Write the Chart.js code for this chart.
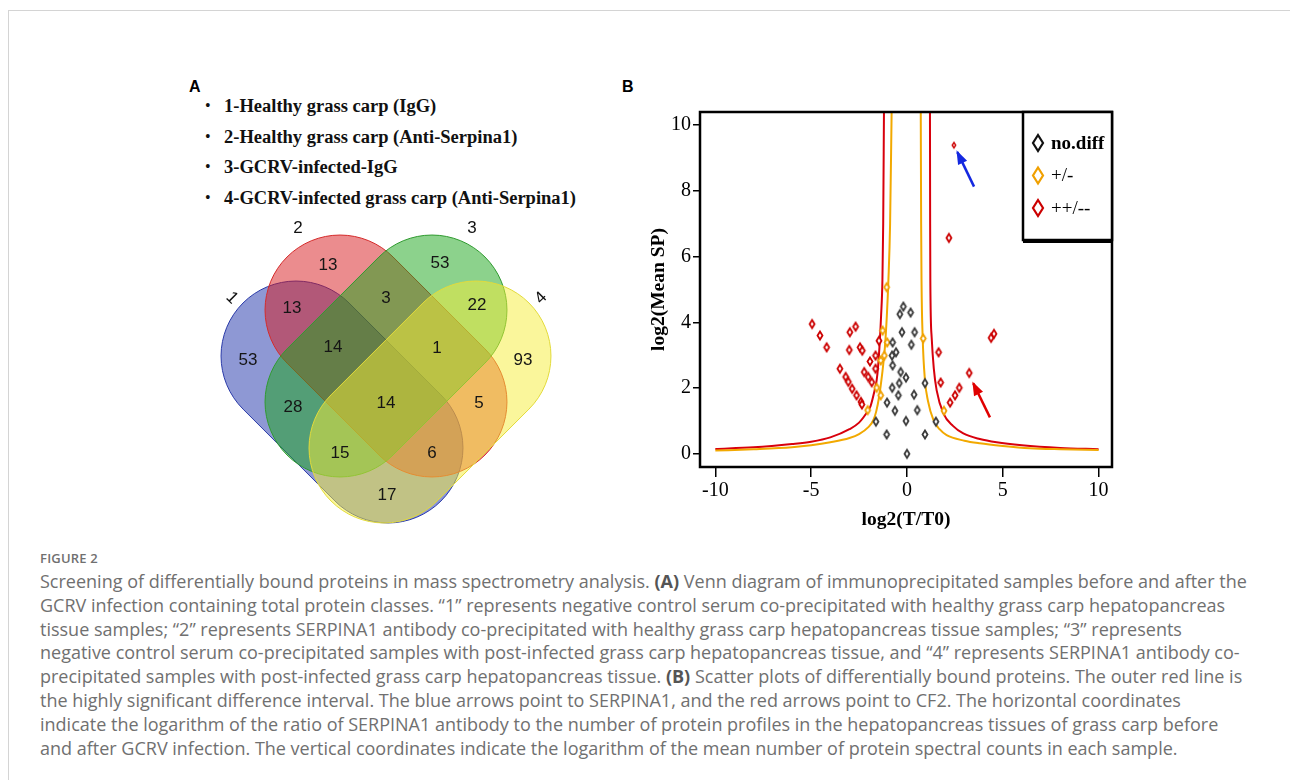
<!DOCTYPE html>
<html lang="en">
<head>
<meta charset="UTF-8">
<title>Figure 2</title>
<style>
    body {
        margin: 0;
        width: 1290px;
        height: 780px;
        background: #fff;
        position: relative;
        overflow: hidden;
        font-family: "Liberation Sans", Arial, sans-serif;
    }

    .frame {
        position: absolute;
        left: 8px;
        top: 10px;
        width: 1400px;
        height: 900px;
        border-left: 1px solid #d4d4d4;
        border-top: 1px solid #d4d4d4;
    }

    .letter {
        position: absolute;
        font: bold 16px "Liberation Sans", Arial, sans-serif;
        color: #000;
    }

    .groups {
        position: absolute;
        left: 205px;
        top: 94px;
        margin: 0;
        padding: 0;
        list-style: none;
        font: bold 18.5px "Liberation Serif", "Times New Roman", serif;
        color: #111;
        white-space: nowrap;
    }

    .groups li {
        position: relative;
        height: 30.7px;
        line-height: 24px;
        padding-left: 19px;
    }

    .groups li::before {
        content: "\2022";
        position: absolute;
        left: 0;
        font-weight: normal;
        font-size: 16px;
    }

    #vennBox {
        position: absolute;
        left: 200px;
        top: 215px;
        width: 380px;
        height: 320px;
    }

    #scatterBox {
        position: absolute;
        left: 630px;
        top: 100px;
        width: 500px;
        height: 440px;
    }

    .caption {
        position: absolute;
        left: 40px;
        top: 549px;
        color: #707070;
        font-family: "Open Sans", "Noto Sans", sans-serif;
        white-space: nowrap;
    }

    .caption .fig {
        font-size: 13px;
        font-weight: 600;
        line-height: 18px;
        letter-spacing: 0.2px;
    }

    .caption p {
        margin: 3px 0 0 0;
        font-size: 18px;
        font-weight: 400;
        line-height: 23.8px;
    }

    .caption b {
        font-weight: 700;
        color: #555;
    }
</style>
</head>
<body>
<div class="frame"></div>

<div class="letter" style="left:189px; top:78px;">A</div>
<div class="letter" style="left:622px; top:78px;">B</div>

<ul class="groups">
    <li>1-Healthy grass carp (IgG)</li>
    <li>2-Healthy grass carp (Anti-Serpina1)</li>
    <li>3-GCRV-infected-IgG</li>
    <li>4-GCRV-infected grass carp (Anti-Serpina1)</li>
</ul>

<div id="vennBox"><canvas id="vennChart"></canvas></div>
<div id="scatterBox"><canvas id="scatterChart"></canvas></div>

<div class="caption">
    <div class="fig">FIGURE 2</div>
    <p>Screening of differentially bound proteins in mass spectrometry analysis. <b>(A)</b> Venn diagram of immunoprecipitated samples before and after the<br>
    GCRV infection containing total protein classes. “1” represents negative control serum co-precipitated with healthy grass carp hepatopancreas<br>
    tissue samples; “2” represents SERPINA1 antibody co-precipitated with healthy grass carp hepatopancreas tissue samples; “3” represents<br>
    negative control serum co-precipitated samples with post-infected grass carp hepatopancreas tissue, and “4” represents SERPINA1 antibody co-<br>
    precipitated samples with post-infected grass carp hepatopancreas tissue. <b>(B)</b> Scatter plots of differentially bound proteins. The outer red line is<br>
    the highly significant difference interval. The blue arrows point to SERPINA1, and the red arrows point to CF2. The horizontal coordinates<br>
    indicate the logarithm of the ratio of SERPINA1 antibody to the number of protein profiles in the hepatopancreas tissues of grass carp before<br>
    and after GCRV infection. The vertical coordinates indicate the logarithm of the mean number of protein spectral counts in each sample.</p>
</div>

<script src="https://cdn.jsdelivr.net/npm/chart.js"></script>
<script>
    // ---------- A: Venn counts ----------
    const vennSets = ['1', '2', '3', '4'];
    const vennRegions = ['1', '2', '3', '4', '1&2', '2&3', '3&4', '1&2&3', '2&3&4',
                         '1&3', '1&2&3&4', '2&4', '1&3&4', '1&2&4', '1&4'];
    const vennCounts = [53, 13, 53, 93, 13, 3, 22, 14, 1, 28, 14, 5, 15, 6, 17];

    // ---------- B: scatter points ----------
    const noDiffX = [-0.19, -0.37, 0.19, -0.26, 0.4, -0.75, 0.23, -0.57, -0.78, -0.75, -0.33, -0.05, -0.4,
                     0.94, -0.77, -0.45, 0.37, -1.04, -0.63, 0.54, -0.05, -1.06, 0.94, 0, -1.62, 1.51];
    const noDiffY = [4.48, 4.25, 4.3, 3.7, 3.7, 3.39, 3.32, 3.09, 2.99, 2.69, 2.49, 2.32, 2.15,
                     2.15, 2.01, 1.78, 1.8, 1.56, 1.31, 1.33, 1.0, 0.59, 0.59, 0, 0.98, 0.98];

    const modX = [-1.06, -1.27, -1.03, -1.18, -1.37, -1.58, -1.37, 0.85, 1.93, -2.05];
    const modY = [5.07, 3.75, 3.39, 2.99, 2.84, 2.01, 1.78, 3.51, 1.31, 1.33];

    const sigX = [-4.95, -4.54, -4.19, -3.5, -3.2, -3.06, -2.86, -2.63, -2.4, -2.35, -3.01, -2.98, -2.68,
                  -2.45, -2.33, -2.23, -2.02, -1.84, -1.93, -1.64, -1.64, -1.46,
                  1.65, 1.76, 2.25, 2.51, 2.73, 3.25, 4.39, 4.54, 2.19, 2.45];
    const sigY = [3.95, 3.6, 3.24, 2.59, 2.34, 2.19, 1.98, 1.78, 1.58, 1.5, 3.16, 3.7, 3.87,
                  3.24, 3.14, 2.49, 2.34, 2.18, 2.81, 2.99, 2.59, 3.44,
                  3.09, 2.17, 1.56, 1.78, 2.01, 2.46, 3.53, 3.65, 6.57, 9.39];
    const serpinaIndex = 31;

    // threshold curves
    const orangeLeftX = [-10, -8, -6, -5, -4, -3, -2.5, -2, -1.75, -1.6, -1.45, -1.3, -1.15, -1.05, -0.97, -0.88, -0.8];
    const orangeLeftY = [0.1, 0.14, 0.2, 0.26, 0.35, 0.48, 0.6, 0.82, 1.03, 1.3, 1.75, 2.4, 3.25, 4.2, 5.26, 7, 10.4];
    const orangeRightX = [0.72, 0.74, 0.76, 0.82, 0.94, 1.1, 1.38, 1.7, 2.07, 3, 3.8, 5, 6.4, 8, 10];
    const orangeRightY = [10.4, 7, 5.26, 3.54, 2.24, 1.6, 1.03, 0.75, 0.57, 0.4, 0.32, 0.24, 0.17, 0.14, 0.12];
    const redLeftX = [-10, -8, -6, -5, -4, -3, -2.5, -2.1, -1.9, -1.7, -1.58, -1.5, -1.42, -1.35, -1.28, -1.24, -1.2];
    const redLeftY = [0.15, 0.2, 0.3, 0.37, 0.5, 0.75, 0.95, 1.25, 1.45, 1.9, 2.24, 2.7, 3.4, 4.2, 5.3, 7, 10.4];
    const redRightX = [1.2, 1.21, 1.22, 1.29, 1.4, 1.55, 1.9, 2.4, 2.94, 3.8, 4.68, 6, 8, 10];
    const redRightY = [10.4, 7, 5.26, 3.54, 2.6, 1.93, 1.23, 0.85, 0.62, 0.45, 0.35, 0.26, 0.18, 0.14];

    // arrows (tail -> head)
    const blueArrowX = [3.5, 2.63];
    const blueArrowY = [8.13, 9.18];
    const redArrowX = [4.33, 3.46];
    const redArrowY = [1.11, 2.15];

    const xTicks = [-10, -5, 0, 5, 10];
    const yTicks = [0, 2, 4, 6, 8, 10];

    // ---------- Venn layout (canvas px, y down) ----------
    const capHalf = 65, capR = 75;   // straight half-length, end radius
    const vennShapes = [
        { cx: 142, cy: 187, rot: 45,  fill: 'rgba(30, 50, 170, 0.5)',  stroke: '#2a3aa8' },
        { cx: 186, cy: 141, rot: 45,  fill: 'rgba(215, 25, 30, 0.5)',  stroke: '#d42a2a' },
        { cx: 186, cy: 141, rot: -45, fill: 'rgba(25, 165, 25, 0.5)',  stroke: '#2f9a2f' },
        { cx: 230, cy: 187, rot: -45, fill: 'rgba(245, 237, 55, 0.5)', stroke: '#e2da3a' }
    ];
    const vennSetLabelPos = [[32, 83, 45], [98, 13, 0], [272, 13, 0], [341, 83, -45]];
    const vennCountPos = [[48, 145], [128, 50], [240, 48], [323, 145], [92, 93], [186, 83], [277, 90],
                          [133, 132], [237, 133], [93, 192], [186, 188], [279, 188], [140, 238], [232, 238], [187, 280]];

    function capsulePath(ctx, cx, cy, half, r, rot) {
        ctx.save();
        ctx.translate(cx, cy);
        ctx.rotate(rot);
        ctx.beginPath();
        ctx.moveTo(-half, -r);
        ctx.lineTo(half, -r);
        ctx.arc(half, 0, r, -Math.PI / 2, Math.PI / 2);
        ctx.lineTo(-half, r);
        ctx.arc(-half, 0, r, Math.PI / 2, Math.PI * 1.5);
        ctx.closePath();
        ctx.restore();
    }

    const vennPlugin = {
        id: 'venn',
        beforeDatasetsDraw(chart) {
            const { ctx, scales: { x, y } } = chart;
            const k = x.getPixelForValue(1) - x.getPixelForValue(0);
            vennShapes.forEach(e => {
                capsulePath(ctx, x.getPixelForValue(e.cx), y.getPixelForValue(e.cy), capHalf * k, capR * k,
                            e.rot * Math.PI / 180);
                ctx.fillStyle = e.fill;
                ctx.fill();
                ctx.lineWidth = 1;
                ctx.strokeStyle = e.stroke;
                ctx.stroke();
            });
            ctx.save();
            ctx.font = '17px "Liberation Sans", Arial, sans-serif';
            ctx.fillStyle = '#111';
            ctx.textAlign = 'center';
            ctx.textBaseline = 'middle';
            vennSets.forEach((s, i) => {
                const p = vennSetLabelPos[i];
                ctx.save();
                ctx.translate(x.getPixelForValue(p[0]), y.getPixelForValue(p[1]));
                ctx.rotate(p[2] * Math.PI / 180);
                ctx.fillText(s, 0, 0);
                ctx.restore();
            });
            ctx.restore();
        },
        afterDatasetsDraw(chart) {
            const { ctx } = chart;
            const meta = chart.getDatasetMeta(0);
            ctx.save();
            ctx.font = '17px "Liberation Sans", Arial, sans-serif';
            ctx.fillStyle = '#151515';
            ctx.textAlign = 'center';
            ctx.textBaseline = 'middle';
            meta.data.forEach((pt, i) => ctx.fillText(String(vennCounts[i]), pt.x, pt.y));
            ctx.restore();
        }
    };

    new Chart(document.getElementById('vennChart'), {
        type: 'scatter',
        data: {
            labels: vennRegions,
            datasets: [{
                data: vennCountPos.map(p => ({ x: p[0], y: p[1] })),
                pointRadius: 0
            }]
        },
        options: {
            responsive: true,
            maintainAspectRatio: false,
            animation: false,
            events: [],
            layout: { padding: 0 },
            plugins: { legend: { display: false }, tooltip: { enabled: false } },
            scales: {
                x: { display: false, min: 0, max: 380 },
                y: { display: false, min: 0, max: 320, reverse: true }
            }
        },
        plugins: [vennPlugin]
    });

    // ---------- scatter ----------
    function makeDiamond(color, w, h, lw) {
        const c = document.createElement('canvas');
        c.width = Math.ceil(w + lw * 2 + 1);
        c.height = Math.ceil(h + lw * 2 + 1);
        const g = c.getContext('2d');
        const cx = c.width / 2, cy = c.height / 2;
        g.beginPath();
        g.moveTo(cx, cy - h / 2);
        g.lineTo(cx + w / 2, cy);
        g.lineTo(cx, cy + h / 2);
        g.lineTo(cx - w / 2, cy);
        g.closePath();
        g.fillStyle = '#fff';
        g.fill();
        g.lineWidth = lw;
        g.strokeStyle = color;
        g.stroke();
        return c;
    }

    const colBlack = '#3a3a3a', colOrange = '#f0a000', colRed = '#cc0000';
    const dBlack = makeDiamond(colBlack, 5, 8, 1.8);
    const dOrange = makeDiamond(colOrange, 5, 8, 1.8);
    const dRed = makeDiamond(colRed, 5, 8, 1.8);
    const dRedSmall = makeDiamond(colRed, 3.5, 5.5, 1.4);

    const toXY = (xs, ys) => xs.map((v, i) => ({ x: v, y: ys[i] }));

    const curve = (xs, ys, color) => ({
        type: 'line',
        data: toXY(xs, ys),
        borderColor: color,
        borderWidth: 2,
        pointRadius: 0,
        cubicInterpolationMode: 'monotone',
        fill: false,
        legendItem: false
    });

    const arrow = (xs, ys, color) => ({
        type: 'line',
        data: toXY(xs, ys),
        borderColor: color,
        borderWidth: 2.5,
        pointRadius: 0,
        fill: false,
        legendItem: false,
        arrow: true
    });

    const boxPlugin = {
        id: 'boxAndLegend',
        afterDatasetsDraw(chart) {
            const { ctx, chartArea: { left, right, top, bottom } } = chart;
            // arrow heads
            chart.data.datasets.forEach((ds, i) => {
                if (!ds.arrow) return;
                const pts = chart.getDatasetMeta(i).data;
                const a = pts[0], b = pts[pts.length - 1];
                const ang = Math.atan2(b.y - a.y, b.x - a.x);
                ctx.save();
                ctx.translate(b.x, b.y);
                ctx.rotate(ang);
                ctx.beginPath();
                ctx.moveTo(2, 0);
                ctx.lineTo(-12, -5);
                ctx.lineTo(-12, 5);
                ctx.closePath();
                ctx.fillStyle = ds.borderColor;
                ctx.fill();
                ctx.restore();
            });
            // frame
            ctx.save();
            ctx.lineWidth = 2.5;
            ctx.strokeStyle = '#000';
            ctx.strokeRect(left, top, right - left, bottom - top);
            // legend box
            const w = 89, h = 128, lx = right - w, ly = top;
            ctx.fillStyle = '#fff';
            ctx.fillRect(lx, ly, w, h);
            ctx.strokeRect(lx, ly, w, h);
            ctx.lineWidth = 2;
            ctx.beginPath();
            ctx.moveTo(lx, ly + h + 2);
            ctx.lineTo(right, ly + h + 2);
            ctx.stroke();
            const items = chart.data.datasets.filter(d => d.legendItem);
            items.forEach((d, i) => {
                const cy = ly + 31 + i * 32.5;
                const cx = lx + 15;
                ctx.beginPath();
                ctx.moveTo(cx, cy - 8);
                ctx.lineTo(cx + 5, cy);
                ctx.lineTo(cx, cy + 8);
                ctx.lineTo(cx - 5, cy);
                ctx.closePath();
                ctx.lineWidth = 2.2;
                ctx.strokeStyle = d.legendColor;
                ctx.stroke();
                ctx.fillStyle = '#000';
                ctx.font = (i === 0 ? 'bold ' : '') + '19px "Liberation Serif", serif';
                ctx.textAlign = 'left';
                ctx.textBaseline = 'middle';
                ctx.fillText(d.label, lx + 28, cy + 1);
            });
            ctx.restore();
        }
    };

    const tickFont = { family: '"Liberation Serif", "Times New Roman", serif', size: 20 };
    const titleFont = { family: '"Liberation Serif", "Times New Roman", serif', size: 19.5, weight: 'bold' };

    new Chart(document.getElementById('scatterChart'), {
        type: 'scatter',
        data: {
            datasets: [
                { label: 'no.diff', data: toXY(noDiffX, noDiffY), pointStyle: dBlack, legendItem: true, legendColor: '#111' },
                { label: '+/-', data: toXY(modX, modY), pointStyle: dOrange, legendItem: true, legendColor: colOrange },
                { label: '++/--', data: toXY(sigX, sigY), legendItem: true, legendColor: colRed,
                  pointStyle: ctx => ctx.dataIndex === serpinaIndex ? dRedSmall : dRed },
                arrow(blueArrowX, blueArrowY, '#1428e0'),
                arrow(redArrowX, redArrowY, '#e00000'),
                curve(orangeLeftX, orangeLeftY, '#f2a900'),
                curve(orangeRightX, orangeRightY, '#f2a900'),
                curve(redLeftX, redLeftY, '#d8000c'),
                curve(redRightX, redRightY, '#d8000c')
            ]
        },
        options: {
            responsive: true,
            maintainAspectRatio: false,
            animation: false,
            events: [],
            layout: { padding: { top: 12, right: 18, left: 0, bottom: 0 } },
            plugins: { legend: { display: false }, tooltip: { enabled: false } },
            scales: {
                x: {
                    type: 'linear',
                    min: -10.8,
                    max: 10.7,
                    afterBuildTicks: s => { s.ticks = xTicks.map(v => ({ value: v })); },
                    afterFit: s => { s.height = 73; s.paddingLeft = 0; s.paddingRight = 0; },
                    border: { display: false },
                    grid: { drawOnChartArea: false, drawTicks: true, tickLength: 10, color: '#000', lineWidth: 1.5 },
                    ticks: { color: '#000', font: tickFont, padding: 2, maxRotation: 0 },
                    title: { display: true, text: 'log2(T/T0)', color: '#000', font: titleFont, padding: 8 }
                },
                y: {
                    type: 'linear',
                    min: -0.4,
                    max: 10.4,
                    afterBuildTicks: s => { s.ticks = yTicks.map(v => ({ value: v })); },
                    afterFit: s => { s.width = 70; s.paddingTop = 0; s.paddingBottom = 0; },
                    border: { display: false },
                    grid: { drawOnChartArea: false, drawTicks: true, tickLength: 7, color: '#000', lineWidth: 1.5 },
                    ticks: { color: '#000', font: tickFont, padding: 2 },
                    title: { display: true, text: 'log2(Mean SP)', color: '#000', font: titleFont, padding: 17 }
                }
            }
        },
        plugins: [boxPlugin]
    });
</script>
</body>
</html>
